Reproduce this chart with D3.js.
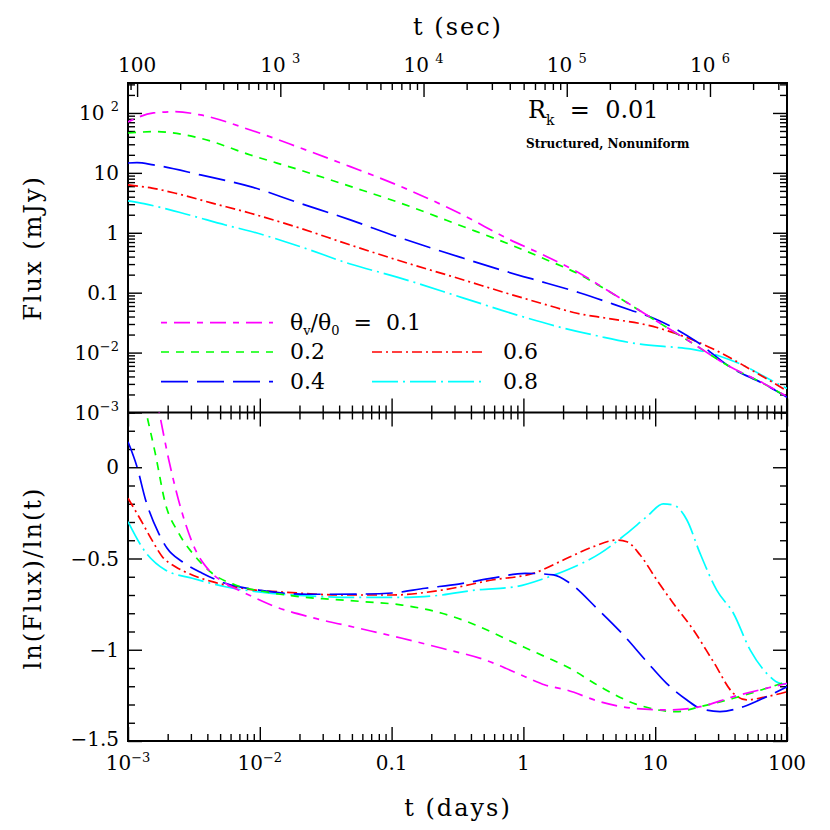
<!DOCTYPE html>
<html><head><meta charset="utf-8">
<script src="https://cdn.jsdelivr.net/npm/d3@7"></script>
<style>body{margin:0;background:#fff} text{white-space:pre}</style>
</head><body>
<svg id="c" width="830" height="830"></svg>
<script>
// ---------------- DATA ----------------
const seriesLabels = ["0.1", "0.2", "0.4", "0.6", "0.8"];
const seriesColors = ["#ff00ff", "#00ff00", "#0000ff", "#ff0000", "#00ffff"];
const seriesDash = ["6,7,16,7", "8,7", "27,9", "10,4,2,4", "26,5,2,5"];

// top panel: t (days) and flux (mJy)
const fluxT_01 = [0.001,0.00156,0.00229,0.00355,0.00849,0.0203,0.0486,0.110,0.352,0.750,1.51,2.55,4.30,8.63,18.4,37.0,66.1,100];
const flux_01  = [70.8,100,105,92.7,52.0,26.1,12.7,6.28,1.95,0.809,0.399,0.224,0.111,0.0425,0.0152,0.00582,0.00309,0.00184];
const fluxT_02 = [0.001,0.00162,0.0021,0.00355,0.00849,0.0203,0.0486,0.110,0.352,0.750,1.51,2.55,4.30,8.63,18.4,37.0,66.1,100];
const flux_02  = [46.3,48.8,46.9,37.8,19.9,11.1,5.95,3.28,1.26,0.668,0.352,0.211,0.110,0.0422,0.0151,0.00579,0.00305,0.00182];
const fluxT_04 = [0.001,0.00117,0.00156,0.00355,0.00849,0.0203,0.0486,0.110,0.352,0.750,1.51,2.70,6.46,9.14,20.8,37.0,66.1,100];
const flux_04  = [14.6,14.8,13.6,9.23,5.89,3.10,1.64,0.861,0.375,0.224,0.144,0.0989,0.0514,0.0397,0.0150,0.00575,0.00302,0.0018];
const fluxT_06 = [0.001,0.00152,0.00229,0.00435,0.00849,0.0203,0.0486,0.110,0.352,0.750,1.51,2.55,4.30,8.63,10.3,13.7,19.5,27.6,39.2,49.4,70.1,100];
const flux_06  = [6.28,5.57,4.57,3.13,2.12,1.19,0.625,0.352,0.163,0.0977,0.0624,0.0453,0.0374,0.0289,0.0262,0.0215,0.0161,0.01146,0.00764,0.0057,0.00366,0.00229];
const fluxT_08 = [0.001,0.00132,0.00192,0.00307,0.00548,0.00849,0.0203,0.0486,0.110,0.352,0.885,2.01,3.61,7.69,13.7,18.4,31.0,49.4,66.1,100];
const flux_08  = [3.40,3.06,2.53,1.92,1.35,1.06,0.586,0.301,0.182,0.0813,0.0427,0.0257,0.0191,0.0138,0.0123,0.0115,0.00871,0.00575,0.00407,0.00251];

// bottom panel: t (days) and ln(Flux)/ln(t)
const slopeT_01 = [0.001,0.00141,0.00171,0.00204,0.00258,0.00325,0.0041,0.00548,0.00778,0.0131,0.0264,0.0562,0.120,0.241,0.513,1.03,1.46,2.14,3.82,6.84,12.2,21.9,39.2,70.1,100];
const slope_01  = [1.1,0.6,0.314,0.040,-0.252,-0.453,-0.563,-0.636,-0.691,-0.764,-0.828,-0.882,-0.937,-0.992,-1.056,-1.148,-1.193,-1.221,-1.285,-1.321,-1.330,-1.312,-1.257,-1.211,-1.184];
const slopeT_02 = [0.001,0.00136,0.00161,0.00192,0.00243,0.00325,0.00435,0.00653,0.0110,0.0197,0.0353,0.0631,0.120,0.241,0.432,0.771,1.46,2.14,3.82,6.84,14.6,21.9,39.2,70.1,100];
const slope_02  = [0.75,0.314,0.076,-0.198,-0.362,-0.490,-0.581,-0.645,-0.682,-0.709,-0.724,-0.737,-0.755,-0.800,-0.864,-0.947,-1.038,-1.093,-1.202,-1.293,-1.339,-1.312,-1.266,-1.211,-1.175];
const slopeT_04 = [0.001,0.00117,0.00136,0.00171,0.00198,0.00258,0.00366,0.00548,0.00982,0.0235,0.0562,0.101,0.180,0.322,0.577,1.03,1.69,2.26,3.61,5.74,8.63,12.2,17.4,21.9,31.0,46.7,70.1,100];
const slope_04  = [0.14,0.003,-0.179,-0.362,-0.444,-0.518,-0.581,-0.636,-0.673,-0.696,-0.695,-0.689,-0.663,-0.640,-0.608,-0.581,-0.590,-0.636,-0.773,-0.919,-1.065,-1.184,-1.275,-1.321,-1.339,-1.312,-1.257,-1.203];
const slopeT_06 = [0.001,0.00121,0.00152,0.00182,0.00229,0.00307,0.00435,0.00735,0.0176,0.0421,0.101,0.241,0.577,1.19,2.14,3.40,5.12,6.10,7.69,10.3,13.7,19.5,27.6,39.2,49.4,70.1,100];
const slope_06  = [-0.17,-0.271,-0.399,-0.490,-0.545,-0.590,-0.627,-0.663,-0.687,-0.700,-0.700,-0.673,-0.618,-0.581,-0.499,-0.435,-0.399,-0.408,-0.481,-0.618,-0.745,-0.892,-1.065,-1.239,-1.275,-1.257,-1.230];
const slopeT_08 = [0.001,0.00132,0.00192,0.00307,0.00548,0.0110,0.0235,0.0562,0.135,0.241,0.432,0.867,1.46,2.14,3.82,6.10,8.63,11.5,13.7,17.4,21.9,29.3,39.2,52.5,70.1,88.5,100];
const slope_08  = [-0.298,-0.453,-0.563,-0.608,-0.655,-0.687,-0.705,-0.713,-0.713,-0.700,-0.673,-0.655,-0.608,-0.563,-0.472,-0.362,-0.271,-0.201,-0.207,-0.289,-0.472,-0.673,-0.800,-1.001,-1.129,-1.184,-1.188];

// tick labels: [base, superscript]
const dayTickVals = [0.001, 0.01, 0.1, 1, 10, 100];
const dayTickLabels = [["10","−3"],["10","−2"],["0.1",""],["1",""],["10",""],["100",""]];
const secTickVals = [100, 1e3, 1e4, 1e5, 1e6];
const secTickLabels = [["100",""],["10 ","3"],["10 ","4"],["10 ","5"],["10 ","6"]];
const fluxTickVals = [0.001, 0.01, 0.1, 1, 10, 100];
const fluxTickLabels = [["10","−3"],["10","−2"],["0.1",""],["1",""],["10",""],["10 ","2"]];
const slopeTickVals = [-1.5, -1, -0.5, 0];
const slopeTickLabels = ["−1.5", "−1", "−0.5", "0"];

// ---------------- DRAW ----------------
const FONT = "DejaVu Serif";
const svg = d3.select("#c");
const L = 128, R = 787, T = 83, M = 412.5, B = 741;
const MAJ = 14, MIN = 7;

const x = d3.scaleLog().domain([1e-3, 100]).range([L, R]);
const xSec = d3.scaleLog().domain([86.4, 3.45e6]).range([L, R]);
const yF = d3.scaleLog().domain([1e-3, Math.pow(10, 2.5)]).range([M, T]);
const yS = d3.scaleLinear().domain([-1.5, 0.3]).range([B, M]);

const isMajorLog = v => Math.abs(Math.log10(v) - Math.round(Math.log10(v))) < 1e-6;
const splitLog = s => [s.ticks().filter(isMajorLog), s.ticks().filter(v => !isMajorLog(v))];

function drawAxis(axisFn, scale, vals, size, transform) {
  const g = svg.append("g").attr("transform", transform)
    .call(axisFn(scale).tickValues(vals).tickSize(size).tickFormat(""));
  g.select(".domain").remove();
  g.selectAll(".tick line").attr("stroke", "#000").attr("stroke-width", 1.4);
}

// x (days) ticks: bottom (up), middle (both sides)
const [xMaj, xMin] = splitLog(x);
drawAxis(d3.axisTop, x, xMaj, MAJ, `translate(0,${B})`);
drawAxis(d3.axisTop, x, xMin, MIN, `translate(0,${B})`);
drawAxis(d3.axisTop, x, xMaj, MAJ, `translate(0,${M})`);
drawAxis(d3.axisTop, x, xMin, MIN, `translate(0,${M})`);
drawAxis(d3.axisBottom, x, xMaj, MAJ, `translate(0,${M})`);
drawAxis(d3.axisBottom, x, xMin, MIN, `translate(0,${M})`);
// top (sec) ticks pointing down
const [sMaj, sMin] = splitLog(xSec);
drawAxis(d3.axisBottom, xSec, sMaj, MAJ, `translate(0,${T})`);
drawAxis(d3.axisBottom, xSec, sMin, MIN, `translate(0,${T})`);
// flux ticks left/right
const [fMaj, fMin] = splitLog(yF);
drawAxis(d3.axisRight, yF, fMaj, MAJ, `translate(${L},0)`);
drawAxis(d3.axisRight, yF, fMin, MIN, `translate(${L},0)`);
drawAxis(d3.axisLeft, yF, fMaj, MAJ, `translate(${R},0)`);
drawAxis(d3.axisLeft, yF, fMin, MIN, `translate(${R},0)`);
// slope ticks left/right
const sAll = d3.range(-15, 4).map(i => i / 10);
const isHalf = v => Math.abs(v * 2 - Math.round(v * 2)) < 1e-9;
drawAxis(d3.axisRight, yS, sAll.filter(isHalf), MAJ, `translate(${L},0)`);
drawAxis(d3.axisRight, yS, sAll.filter(v => !isHalf(v)), MIN, `translate(${L},0)`);
drawAxis(d3.axisLeft, yS, sAll.filter(isHalf), MAJ, `translate(${R},0)`);
drawAxis(d3.axisLeft, yS, sAll.filter(v => !isHalf(v)), MIN, `translate(${R},0)`);

// frames
svg.append("rect").attr("x", L).attr("y", T).attr("width", R - L).attr("height", B - T)
  .attr("fill", "none").attr("stroke", "#000").attr("stroke-width", 2);
svg.append("line").attr("x1", L).attr("x2", R).attr("y1", M).attr("y2", M)
  .attr("stroke", "#000").attr("stroke-width", 2);

// tick labels
function supLabel(sel, lab, size, supSize, dy) {
  sel.attr("font-family", FONT).attr("font-size", size).attr("fill", "#000");
  sel.append("tspan").text(lab[0]);
  if (lab[1]) sel.append("tspan").attr("font-size", supSize).attr("dy", dy).text(lab[1]);
}
dayTickVals.forEach((v, i) => {
  supLabel(svg.append("text").attr("x", x(v)).attr("y", 770).attr("text-anchor", "middle"), dayTickLabels[i], 20, 13, -8);
});
secTickVals.forEach((v, i) => {
  supLabel(svg.append("text").attr("x", xSec(v)).attr("y", 72).attr("text-anchor", "middle"), secTickLabels[i], 20, 13, -9);
});
fluxTickVals.forEach((v, i) => {
  supLabel(svg.append("text").attr("x", 119).attr("y", yF(v) + 7).attr("text-anchor", "end"), fluxTickLabels[i], 20, 13, -9);
});
slopeTickVals.forEach((v, i) => {
  svg.append("text").attr("x", 119).attr("y", yS(v) + (v === -1.5 ? 5 : 7)).attr("text-anchor", "end")
    .attr("font-family", FONT).attr("font-size", 20).text(slopeTickLabels[i]);
});

// axis titles
const title = (txt, tx, ty, rot) => svg.append("text")
  .attr("transform", `translate(${tx},${ty})` + (rot ? " rotate(-90)" : ""))
  .attr("text-anchor", "middle").attr("font-family", FONT).attr("font-size", 24)
  .attr("letter-spacing", 2).text(txt);
title("t (sec)", 458, 35, false);
title("t (days)", 458, 816, false);
title("Flux (mJy)", 41, 248, true);
title("ln(Flux)/ln(t)", 41, 578, true);

// annotation
const ann = svg.append("text").attr("x", 528).attr("y", 118).attr("font-family", FONT).attr("font-size", 24);
ann.append("tspan").text("R");
ann.append("tspan").attr("font-size", 14).attr("dy", 7).text("k");
ann.append("tspan").attr("dy", -7).text("  =  0.01");
svg.append("text").attr("x", 526).attr("y", 148).attr("font-family", FONT).attr("font-size", 12)
  .attr("font-weight", "bold").text("Structured, Nonuniform");

// clip paths
const defs = svg.append("defs");
defs.append("clipPath").attr("id", "clipTop").append("rect").attr("x", L).attr("y", T).attr("width", R - L).attr("height", M - T);
defs.append("clipPath").attr("id", "clipBot").append("rect").attr("x", L).attr("y", M).attr("width", R - L).attr("height", B - M);

const fluxSets = [[fluxT_01, flux_01], [fluxT_02, flux_02], [fluxT_04, flux_04], [fluxT_06, flux_06], [fluxT_08, flux_08]];
const slopeSets = [[slopeT_01, slope_01], [slopeT_02, slope_02], [slopeT_04, slope_04], [slopeT_06, slope_06], [slopeT_08, slope_08]];

const lineF = d3.line().x(d => x(d[0])).y(d => yF(d[1])).curve(d3.curveMonotoneX);
const lineS = d3.line().x(d => x(d[0])).y(d => yS(d[1])).curve(d3.curveMonotoneX);

const gTop = svg.append("g").attr("clip-path", "url(#clipTop)");
const gBot = svg.append("g").attr("clip-path", "url(#clipBot)");
for (let i = 4; i >= 0; i--) {
  const fd = fluxSets[i][0].map((t, k) => [t, fluxSets[i][1][k]]);
  gTop.append("path").attr("d", lineF(fd)).attr("fill", "none").attr("stroke", seriesColors[i])
    .attr("stroke-width", 1.7).attr("stroke-dasharray", seriesDash[i]);
  const sd = slopeSets[i][0].map((t, k) => [t, slopeSets[i][1][k]]);
  gBot.append("path").attr("d", lineS(sd)).attr("fill", "none").attr("stroke", seriesColors[i])
    .attr("stroke-width", 1.7).attr("stroke-dasharray", seriesDash[i]);
}

// legend
const legRows = [
  {i: 0, x1: 161, x2: 273, y: 322.7, tx: 290},
  {i: 1, x1: 161, x2: 273, y: 352, tx: 290},
  {i: 2, x1: 161, x2: 273, y: 381.7, tx: 290},
  {i: 3, x1: 372, x2: 483, y: 352, tx: 503},
  {i: 4, x1: 372, x2: 483, y: 381.7, tx: 503}
];
legRows.forEach(r => {
  svg.append("line").attr("x1", r.x1).attr("x2", r.x2).attr("y1", r.y).attr("y2", r.y)
    .attr("stroke", seriesColors[r.i]).attr("stroke-width", 1.7).attr("stroke-dasharray", seriesDash[r.i]);
  const t = svg.append("text").attr("x", r.tx).attr("y", r.y + 7).attr("font-family", FONT).attr("font-size", 22);
  if (r.i === 0) {
    t.append("tspan").text("θ");
    t.append("tspan").attr("font-size", 13).attr("dy", 5).text("v");
    t.append("tspan").attr("dy", -5).text("/θ");
    t.append("tspan").attr("font-size", 13).attr("dy", 5).text("0");
    t.append("tspan").attr("dy", -5).text("  =  " + seriesLabels[0]);
  } else {
    t.text(seriesLabels[r.i]);
  }
});
</script>
</body></html>
